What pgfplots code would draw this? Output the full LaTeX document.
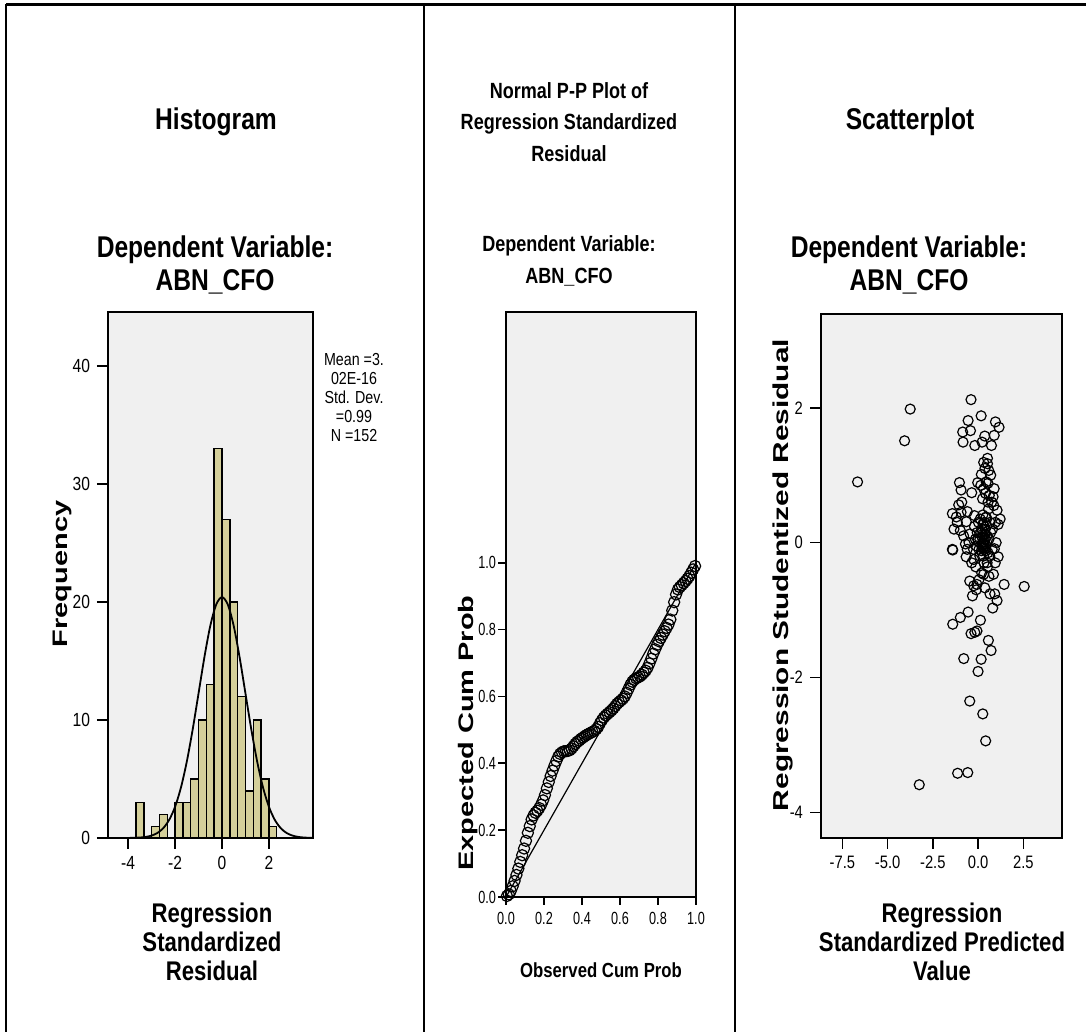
\documentclass[border=0pt]{standalone}
\usepackage{pgfplots}
\pgfplotsset{compat=1.18}
\usepackage{fontspec}
\setmainfont{Liberation Sans}
\newfontfamily\cond{Liberation Sans}[FakeStretch=0.82]
\newfontfamily\condn{Liberation Sans}[FakeStretch=0.72]
\newfontfamily\ylab{Liberation Sans}[FakeStretch=1.38]
\definecolor{bg}{RGB}{240,240,240}
\definecolor{barcol}{RGB}{212,207,154}
\pgfplotsset{spss/.style={scale only axis, anchor=south west,
  axis background/.style={fill=bg},
  axis line style={line width=0.8pt},
  tick align=outside, major tick length=5.5pt,
  every tick/.style={black, line width=0.8pt},
  tick pos=left,
  tick label style={font=\cond\fontsize{9.5}{10}\selectfont},
  /pgf/number format/assume math mode=true}}
\begin{document}
\begin{tikzpicture}
\useasboundingbox (0,0) rectangle (543pt,516pt);
% frame
\draw[line width=1.5pt] (3pt,513.5pt) -- (543pt,513.5pt);
\draw[line width=1pt] (3pt,514pt) -- (3pt,0pt);
\draw[line width=1pt] (212pt,514pt) -- (212pt,0pt);
\draw[line width=1pt] (367.5pt,514pt) -- (367.5pt,0pt);

% ---------- Histogram ----------
\begin{axis}[spss, at={(54pt,97pt)}, width=102.5pt, height=263pt,
  xmin=-4.86, xmax=3.88, ymin=0, ymax=44.6,
  xtick={-4,-2,0,2}, ytick={0,10,20,30,40}]
\addplot[ybar interval, fill=barcol, draw=black, line width=0.7pt] coordinates {
(-3.667,3) (-3.333,0) (-3.0,1) (-2.667,2) (-2.333,0) (-2.0,3) (-1.667,3)
(-1.333,5) (-1.0,10) (-0.667,13) (-0.333,33) (0,27) (0.333,20) (0.667,12)
(1.0,4) (1.333,10) (1.667,5) (2.0,1) (2.333,1)};
\addplot[smooth, black, line width=0.9pt, no marks] coordinates {
(-3.95,0.007)(-3.5,0.039)(-3.25,0.093)(-3.0,0.207)(-2.75,0.431)(-2.5,0.842)
(-2.25,1.543)(-2.0,2.65)(-1.75,4.28)(-1.5,6.48)(-1.25,9.20)(-1.0,12.26)
(-0.75,15.33)(-0.5,17.98)(-0.25,19.78)(0,20.42)(0.25,19.78)(0.5,17.98)
(0.75,15.33)(1.0,12.26)(1.25,9.20)(1.5,6.48)(1.75,4.28)(2.0,2.65)
(2.25,1.543)(2.5,0.842)(2.75,0.431)(3.0,0.207)(3.25,0.093)(3.5,0.039)(3.88,0.01)};
\end{axis}

% ---------- P-P plot ----------
\begin{axis}[spss, at={(253pt,67.5pt)}, width=95pt, height=292.5pt,
  xmin=0, xmax=1, ymin=0, ymax=1.75,
  major tick length=4pt,
  xtick={0,0.2,0.4,0.6,0.8,1}, xticklabels={0.0,0.2,0.4,0.6,0.8,1.0},
  ytick={0,0.2,0.4,0.6,0.8,1}, yticklabels={0.0,0.2,0.4,0.6,0.8,1.0},
  tick label style={font=\condn\fontsize{8.8}{9}\selectfont},
  yticklabel style={inner sep=0.8pt}]
\addplot[black, line width=0.6pt, no marks] coordinates {(0,0)(1,1)};
\addplot[only marks, mark=o, mark size=2.8pt, mark options={black, line width=0.6pt}] coordinates {
(0.005,0.003)(0.015,0.008)(0.025,0.018)(0.035,0.032)(0.045,0.048)(0.055,0.066)
(0.065,0.085)(0.075,0.105)(0.085,0.125)(0.095,0.145)(0.105,0.168)(0.115,0.192)
(0.125,0.212)(0.135,0.232)(0.145,0.244)(0.155,0.252)(0.165,0.258)(0.175,0.266)
(0.185,0.276)(0.195,0.289)(0.205,0.305)(0.215,0.325)(0.225,0.344)(0.235,0.362)
(0.245,0.378)(0.255,0.393)(0.265,0.407)(0.275,0.420)(0.285,0.428)(0.295,0.433)
(0.305,0.436)(0.315,0.436)(0.325,0.437)(0.335,0.439)(0.345,0.444)(0.355,0.451)
(0.365,0.458)(0.375,0.464)(0.385,0.468)(0.395,0.473)(0.405,0.477)(0.415,0.481)
(0.425,0.485)(0.435,0.488)(0.445,0.491)(0.455,0.494)(0.465,0.497)(0.475,0.502)
(0.485,0.509)(0.495,0.520)(0.505,0.529)(0.515,0.537)(0.525,0.543)(0.535,0.548)
(0.545,0.553)(0.555,0.558)(0.565,0.564)(0.575,0.571)(0.585,0.578)(0.595,0.583)
(0.605,0.588)(0.615,0.593)(0.625,0.600)(0.635,0.611)(0.645,0.623)(0.655,0.635)
(0.665,0.644)(0.675,0.650)(0.685,0.654)(0.695,0.657)(0.705,0.660)(0.715,0.665)
(0.725,0.671)(0.735,0.677)(0.745,0.686)(0.755,0.699)(0.765,0.713)(0.775,0.728)
(0.785,0.741)(0.795,0.754)(0.805,0.765)(0.815,0.775)(0.825,0.785)(0.835,0.795)
(0.845,0.805)(0.855,0.815)(0.865,0.830)(0.875,0.857)(0.885,0.882)(0.895,0.905)
(0.905,0.920)(0.915,0.927)(0.925,0.933)(0.935,0.939)(0.945,0.945)(0.955,0.952)
(0.965,0.960)(0.975,0.970)(0.985,0.980)(0.995,0.990)};
\end{axis}

% ---------- Scatterplot ----------
\begin{axis}[spss, at={(410.5pt,97pt)}, width=120.5pt, height=262pt,
  xmin=-8.68, xmax=4.64, ymin=-4.38, ymax=3.39,
  xtick={-7.5,-5,-2.5,0,2.5}, xticklabels={-7.5,-5.0,-2.5,0.0,2.5},
  ytick={-4,-2,0,2}, yticklabels={-4,-2,0,2},
  tick label style={font=\cond\fontsize{9}{10}\selectfont}]
\addplot[only marks, mark=o, mark size=2.5pt, mark options={black, line width=0.6pt}] coordinates {
(-6.66,0.90)(-3.75,1.98)(-4.06,1.51)(-3.25,-3.59)(-1.13,-3.42)(-0.57,-3.41)
(0.42,-2.94)(0.26,-2.54)(-0.46,-2.35)(0.0,-1.91)(-0.79,-1.72)(0.17,-1.73)
(0.72,-1.60)(0.57,-1.45)(-1.40,-1.21)(-0.98,-1.11)(-0.55,-1.03)(0.13,-1.15)
(-0.39,-1.35)(-0.18,-1.33)(-0.06,-1.31)(2.55,-0.65)(1.44,-0.62)(-0.39,2.12)
(0.17,1.88)(-0.55,1.81)(0.96,1.79)(1.16,1.71)(-0.85,1.64)(-0.42,1.66)
(0.37,1.58)(0.89,1.59)(-0.83,1.49)(-0.18,1.44)(0.22,1.49)(0.74,1.44)
(0.31,1.19)(0.52,1.17)(0.59,1.07)(0.18,1.01)(-0.02,0.89)(-1.03,0.89)
(-0.94,0.78)(-0.35,0.74)(0.31,0.80)(0.55,0.88)(0.89,0.80)(0.41,0.73)
(0.83,0.68)(-1.07,0.56)(-1.42,0.43)(-1.20,0.38)(-0.94,0.45)(-0.59,0.46)
(-1.33,0.20)(-0.98,0.18)(-0.65,0.31)(-1.40,-0.11)(-1.42,-0.10)(-0.70,-0.02)
(-0.44,0.13)(-0.20,0.24)(0.26,0.41)(0.42,0.37)(0.87,0.55)(1.05,0.48)
(1.22,0.35)(1.11,0.27)(0.90,-0.09)(1.11,-0.21)(0.85,-0.47)(0.52,-0.36)
(0.31,-0.47)(-0.13,-0.36)(-0.46,-0.57)(-0.24,-0.64)(-0.06,-0.62)(-0.31,-0.79)
(0.37,-0.67)(0.66,-0.76)(0.92,-0.76)(1.05,-0.86)(0.81,-0.97)(-0.66,-0.21)
(-0.24,-0.25)
(0.10,0.05)(0.20,-0.05)(0.30,0.10)(0.25,0.00)(0.35,-0.10)(0.40,0.05)(0.15,0.15)
(0.05,-0.10)(0.45,-0.05)(0.30,-0.20)(0.20,0.20)(0.40,0.20)(0.35,0.30)(0.50,0.10)
(0.55,-0.15)(0.10,-0.20)(0.28,-0.08)(0.38,0.12)(0.22,0.08)(0.32,0.02)(0.42,-0.12)
(0.18,-0.12)(0.48,0.25)(0.60,0.05)(0.65,-0.20)(0.70,0.15)(0.00,0.05)(-0.10,-0.05)
(0.50,-0.30)(0.27,0.28)(0.33,-0.30)(0.45,0.38)(0.58,0.50)(0.62,0.70)(0.75,0.60)
(0.66,0.30)(0.80,0.20)(0.78,-0.10)(0.55,0.60)(0.12,0.35)(0.02,0.30)(-0.05,0.15)
(-0.15,0.05)(-0.25,-0.10)(-0.35,-0.30)(-0.50,0.00)(-0.20,0.40)(0.95,0.30)(1.00,0.00)
(0.95,-0.30)(0.60,-0.50)(0.20,-0.45)(0.05,-0.55)(-0.10,-0.70)(0.45,0.90)(0.25,0.65)
(0.15,0.85)(0.52,1.25)(0.38,1.10)(0.70,1.00)(-0.80,0.10)(-1.15,0.30)(-0.60,-0.10)
(-0.90,0.60)(0.35,-0.05)(0.25,0.12)(0.30,-0.02)};
\end{axis}

% ---------- titles ----------
\tikzset{ttl/.style={align=center, font=\cond\bfseries\fontsize{15}{16.5}\selectfont},
         ttm/.style={align=center, font=\cond\bfseries\fontsize{11}{15.8}\selectfont},
         yl/.style={rotate=90, font=\ylab\bfseries\fontsize{10.5}{12}\selectfont}}
\node[ttl] at (108pt,455pt) {Histogram};
\node[ttl] at (107.5pt,383.75pt) {Dependent Variable:\\ABN\_CFO};
\node[ttm] at (284.5pt,455pt) {Normal P-P Plot of\\Regression Standardized\\Residual};
\node[ttm, font=\cond\bfseries\fontsize{11}{16}\selectfont] at (284.5pt,385.5pt) {Dependent Variable:\\ABN\_CFO};
\node[ttl] at (455pt,455pt) {Scatterplot};
\node[ttl] at (454.5pt,383.75pt) {Dependent Variable:\\ABN\_CFO};
% stats
\node[align=center, font=\cond\fontsize{8.7}{9.5}\selectfont] at (177pt,317pt) {Mean =3.\\02E-16\\Std. Dev.\\=0.99\\N =152};
% x labels
\node[align=center, font=\cond\bfseries\fontsize{13.5}{14.5}\selectfont] at (106pt,45pt) {Regression\\Standardized\\Residual};
\node[align=center, font=\cond\bfseries\fontsize{10.2}{12}\selectfont] at (300.5pt,31pt) {Observed Cum Prob};
\node[align=center, font=\cond\bfseries\fontsize{13.5}{14.5}\selectfont] at (471pt,45pt) {Regression\\Standardized Predicted\\Value};
% y labels
\node[yl] at (31pt,229pt) {Frequency};
\node[yl] at (234pt,149.5pt) {Expected Cum Prob};
\node[yl, font=\ylab\bfseries\fontsize{10.8}{12}\selectfont] at (391.5pt,228.5pt) {Regression Studentized Residual};
\end{tikzpicture}
\end{document}
